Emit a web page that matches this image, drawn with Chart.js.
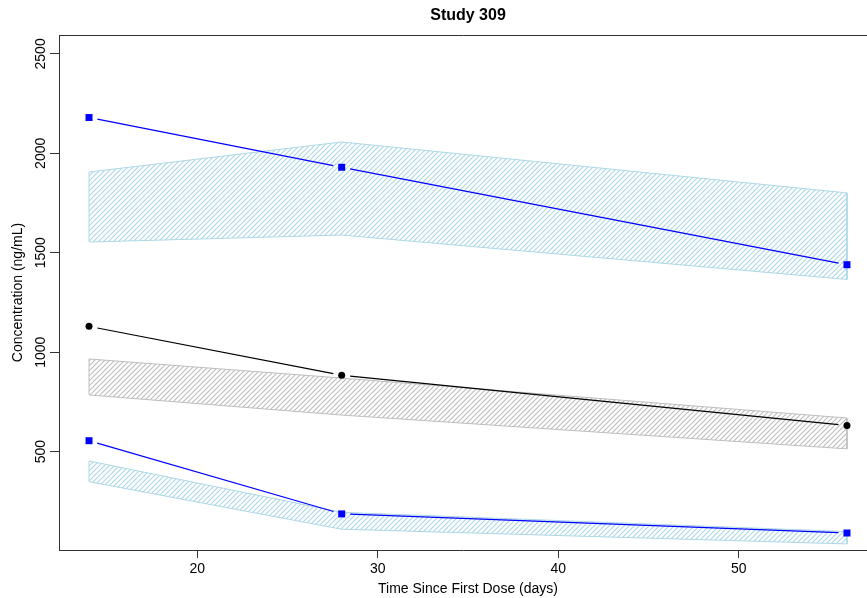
<!DOCTYPE html>
<html><head><meta charset="utf-8">
<script src="https://cdn.jsdelivr.net/npm/chart.js@4.4.1/dist/chart.umd.min.js"></script>
<style>html,body{margin:0;padding:0;background:#fff;overflow:hidden}canvas{display:block}</style>
</head><body><canvas id="c" width="867" height="598"></canvas>
<script>
// ---- data ----
const days = [14, 28, 56];
const upperObs = [2180, 1930, 1440];
const upperPiHi = [1906, 2057, 1801];
const upperPiLo = [1554, 1589, 1366];
const medianObs = [1130, 884, 632];
const medianPiHi = [966, 870, 669];
const medianPiLo = [785, 684, 514];
const lowerObs = [555, 187, 91];
const lowerPiHi = [453, 195, 98];
const lowerPiLo = [349, 110, 36];
const xTicks = [20, 30, 40, 50];
const yTicks = [500, 1000, 1500, 2000, 2500];
const titleText = 'Study 309';
const xTitle = 'Time Since First Dose (days)';
const yTitle = 'Concentration (ng/mL)';

const FONT = '"Liberation Sans", Arial, Helvetica, sans-serif';
const BLUE = '#0000FF', LBLUE = '#ADD8E6', GREY = '#BEBEBE';

function hatch(color) {
  const s = 10;
  const c = document.createElement('canvas'); c.width = s; c.height = s;
  const g = c.getContext('2d');
  g.strokeStyle = color; g.lineWidth = 1.15;
  for (let k = -10; k <= 30; k += 5) {
    g.beginPath(); g.moveTo(-10, k + 10); g.lineTo(k + 10, -10); g.stroke();
  }
  return g.createPattern(c, 'repeat');
}
function polygon(hi, lo) {
  const top = days.map((d, i) => ({x: d, y: hi[i]}));
  const bot = days.map((d, i) => ({x: d, y: lo[i]})).reverse();
  return [...top, ...bot, top[0]];
}
function pts(vals) { return days.map((d, i) => ({x: d, y: vals[i]})); }

const obsDs = (vals, color, style, r) => ({
  type: 'line', data: pts(vals), showLine: false,
  pointStyle: style, pointRadius: r, pointHoverRadius: r,
  pointBackgroundColor: color, pointBorderColor: color, pointBorderWidth: 0
});
const bandDs = (hi, lo, color) => ({
  type: 'line', data: polygon(hi, lo), fill: 'shape',
  backgroundColor: hatch(color), borderColor: color, borderWidth: 1,
  pointRadius: 0, tension: 0
});

function gapLine(ctx, xs, ys, vals, color, gap) {
  ctx.save();
  ctx.strokeStyle = color; ctx.lineWidth = 1.2;
  for (let i = 0; i < days.length - 1; i++) {
    const x0 = xs.getPixelForValue(days[i]), y0 = ys.getPixelForValue(vals[i]);
    const x1 = xs.getPixelForValue(days[i + 1]), y1 = ys.getPixelForValue(vals[i + 1]);
    const dx = x1 - x0, dy = y1 - y0, len = Math.hypot(dx, dy);
    if (len <= 2 * gap) continue;
    const ux = dx / len, uy = dy / len;
    ctx.beginPath();
    ctx.moveTo(x0 + ux * gap, y0 + uy * gap);
    ctx.lineTo(x1 - ux * gap, y1 - uy * gap);
    ctx.stroke();
  }
  ctx.restore();
}

const deco = {
  id: 'deco',
  afterDatasetsDraw(chart) {
    const {ctx, scales: {x, y}} = chart;
    gapLine(ctx, x, y, upperObs, BLUE, 8.5);
    gapLine(ctx, x, y, medianObs, '#000', 8.5);
    gapLine(ctx, x, y, lowerObs, BLUE, 8.5);
  },
  afterDraw(chart) {
    const {ctx, chartArea: a, scales: {x, y}} = chart;
    ctx.save();
    ctx.strokeStyle = '#333'; ctx.lineWidth = 1;
    ctx.beginPath(); ctx.moveTo(a.left + 0.5, Math.round(a.top) + 0.5); ctx.lineTo(a.right, Math.round(a.top) + 0.5); ctx.stroke();
    ctx.fillStyle = '#000';
    ctx.font = '14px ' + FONT;
    ctx.textAlign = 'center'; ctx.textBaseline = 'middle';
    xTicks.forEach(v => ctx.fillText(String(v), x.getPixelForValue(v), 569));
    yTicks.forEach(v => {
      ctx.save(); ctx.translate(41, y.getPixelForValue(v)); ctx.rotate(-Math.PI / 2);
      ctx.fillText(String(v), 0, 0); ctx.restore();
    });
    const mid = x.getPixelForValue((days[0] + days[days.length - 1]) / 2);
    ctx.fillText(xTitle, mid, 589);
    ctx.save(); ctx.translate(18, (a.top + a.bottom) / 2); ctx.rotate(-Math.PI / 2);
    ctx.fillText(yTitle, 0, 0); ctx.restore();
    ctx.font = 'bold 16px ' + FONT;
    ctx.fillText(titleText, mid, 16);
    ctx.restore();
  }
};

new Chart(document.getElementById('c'), {
  type: 'line',
  data: {
    datasets: [
      obsDs(upperObs, BLUE, 'rect', 4.95),
      obsDs(medianObs, '#000', 'circle', 3.5),
      obsDs(lowerObs, BLUE, 'rect', 4.95),
      bandDs(upperPiHi, upperPiLo, LBLUE),
      bandDs(medianPiHi, medianPiLo, GREY),
      bandDs(lowerPiHi, lowerPiLo, LBLUE)
    ]
  },
  options: {
    responsive: false, animation: false, devicePixelRatio: 1,
    layout: {autoPadding: false, padding: {left: 0, right: 0, top: 35, bottom: 0}},
    plugins: {legend: {display: false}, tooltip: {enabled: false}, title: {display: false}},
    scales: {
      x: {
        type: 'linear', min: 12.336, max: 57.11,
        grid: {display: true, drawOnChartArea: false, drawTicks: true, tickLength: 8, tickColor: '#333', tickWidth: 1},
        border: {display: true, color: '#333', width: 1},
        ticks: {display: false},
        afterBuildTicks: s => { s.ticks = xTicks.map(v => ({value: v})); },
        afterFit: s => { s.height = 48; }
      },
      y: {
        type: 'linear', min: 5.5, max: 2595,
        grid: {display: true, drawOnChartArea: false, drawTicks: true, tickLength: 9, tickColor: '#333', tickWidth: 1},
        border: {display: true, color: '#333', width: 1},
        ticks: {display: false},
        afterBuildTicks: s => { s.ticks = yTicks.map(v => ({value: v})); },
        afterFit: s => { s.width = 59; }
      }
    }
  },
  plugins: [deco]
});
</script>
</body></html>
